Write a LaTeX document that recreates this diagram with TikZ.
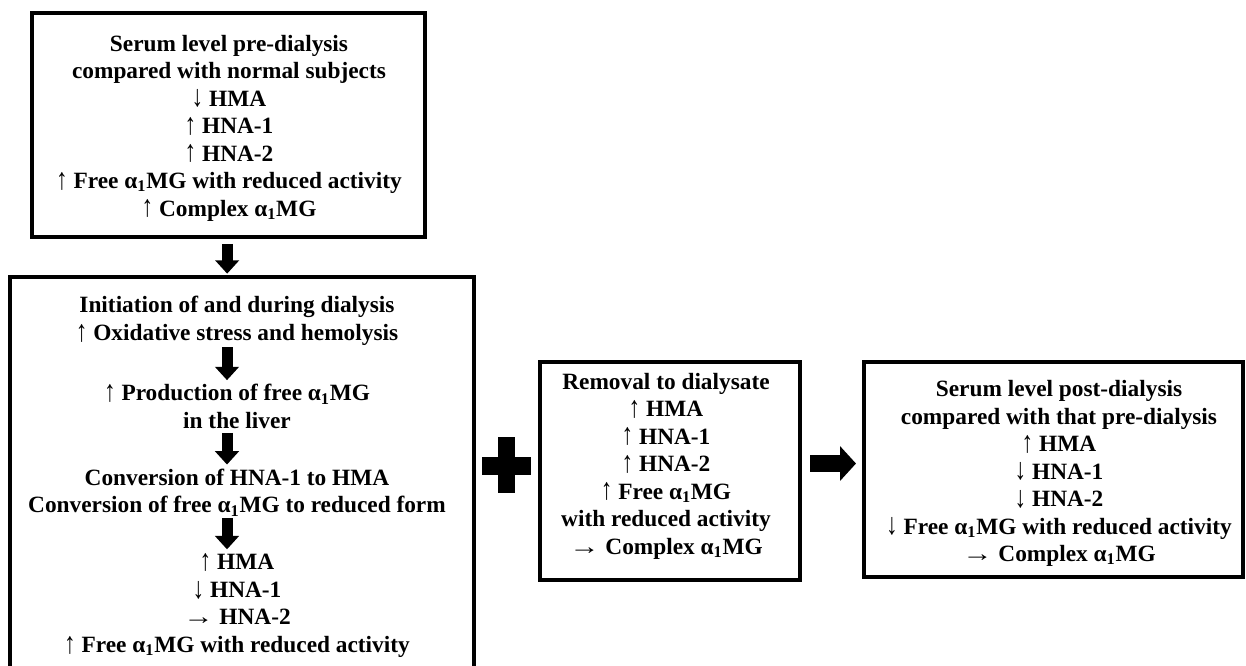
\documentclass[tikz,border=0pt]{standalone}
\usepackage{fontspec}
\setmainfont{Liberation Serif}
\usetikzlibrary{arrows.meta,fit}
\newcommand\myup{\raisebox{-0.5pt}{\mdseries\scalebox{1}[1.3]{↑}}}
\newcommand\mydown{\raisebox{-0.5pt}{\mdseries\scalebox{1}[1.3]{↓}}}
\newcommand\myright{{\mdseries\scalebox{1.3}[1]{→}}}
\newcommand\aMG{α\textsubscript{1}MG}
\begin{document}
\begin{tikzpicture}[x=0.75pt,y=-0.75pt,
  frame/.style={draw, line width=3pt, inner sep=0pt},
  txt/.style={inner sep=0pt, align=center, font=\bfseries\fontsize{17.5}{20.6}\selectfont},
  fat/.style={line width=8.25pt, -{Triangle[width=17.5pt,length=10pt]}},
  fatR/.style={line width=12.75pt, -{Triangle[width=25.5pt,length=12pt]}}]
\useasboundingbox (0,0) rectangle (1246,666);
\begin{scope}
\clip (0,0) rectangle (1246,666);
% top box
\node[frame, fit={(32,13)(425,237)}] (topbox) {};
\node[txt] (toptext) at (229,128) {Serum level pre-dialysis\\compared with normal subjects\\\mydown{} HMA\\\myup{} HNA-1\\\myup{} HNA-2\\\myup{} Free \aMG{} with reduced activity\\\myup{} Complex \aMG};
% left box
\node[frame, fit={(10,277)(474,720)}] (leftbox) {};
\node[txt] (g1) at (237,321) {Initiation of and during dialysis\\\myup{} Oxidative stress and hemolysis};
\node[txt] (g2) at (237,406.5) {\myup{} Production of free \aMG\\in the liver};
\node[txt] (g3) at (237,492.5) {Conversion of HNA-1 to HMA\\Conversion of free \aMG{} to reduced form};
\node[txt] (g4) at (237,605.5) {\myup{} HMA\\\mydown{} HNA-1\\\myright{} HNA-2\\\myup{} Free \aMG{} with reduced activity};
\draw[fat, shorten <=3.75pt, shorten >=1pt] ([xshift=-1pt]topbox.south) -- ([xshift=-1pt]topbox.south |- leftbox.north);
\draw[fat, shorten <=1pt, shorten >=3pt] ([xshift=-7.5pt]g1.south) -- ([xshift=-7.5pt]g2.north);
\draw[fat, shorten <=3pt, shorten >=3pt] ([xshift=-7.5pt]g2.south) -- ([xshift=-7.5pt]g3.north);
\draw[fat, shorten <=1pt, shorten >=3pt] ([xshift=-7.5pt]g3.south) -- ([xshift=-7.5pt]g4.north);
% plus
\fill (482,457) rectangle (531,475);
\fill (498,437) rectangle (515,493);
% middle box
\node[frame, fit={(540,362)(800,580)}] (midbox) {};
\node[txt] (midtext) at (666,466) {Removal to dialysate\\\myup{} HMA\\\myup{} HNA-1\\\myup{} HNA-2\\\myup{} Free \aMG\\with reduced activity\\\myright{} Complex \aMG};
% right box
\node[frame, fit={(864,362)(1243,577)}] (rightbox) {};
\node[txt] (righttext) at (1059,473.5) {Serum level post-dialysis\\compared with that pre-dialysis\\\myup{} HMA\\\mydown{} HNA-1\\\mydown{} HNA-2\\\mydown{} Free \aMG{} with reduced activity\\\myright{} Complex \aMG};
\draw[fatR, shorten <=6pt, shorten >=4.5pt] ([yshift=5.6pt]midbox.east) -- ([yshift=5.6pt]midbox.east -| rightbox.west);
\end{scope}
\end{tikzpicture}
\end{document}
